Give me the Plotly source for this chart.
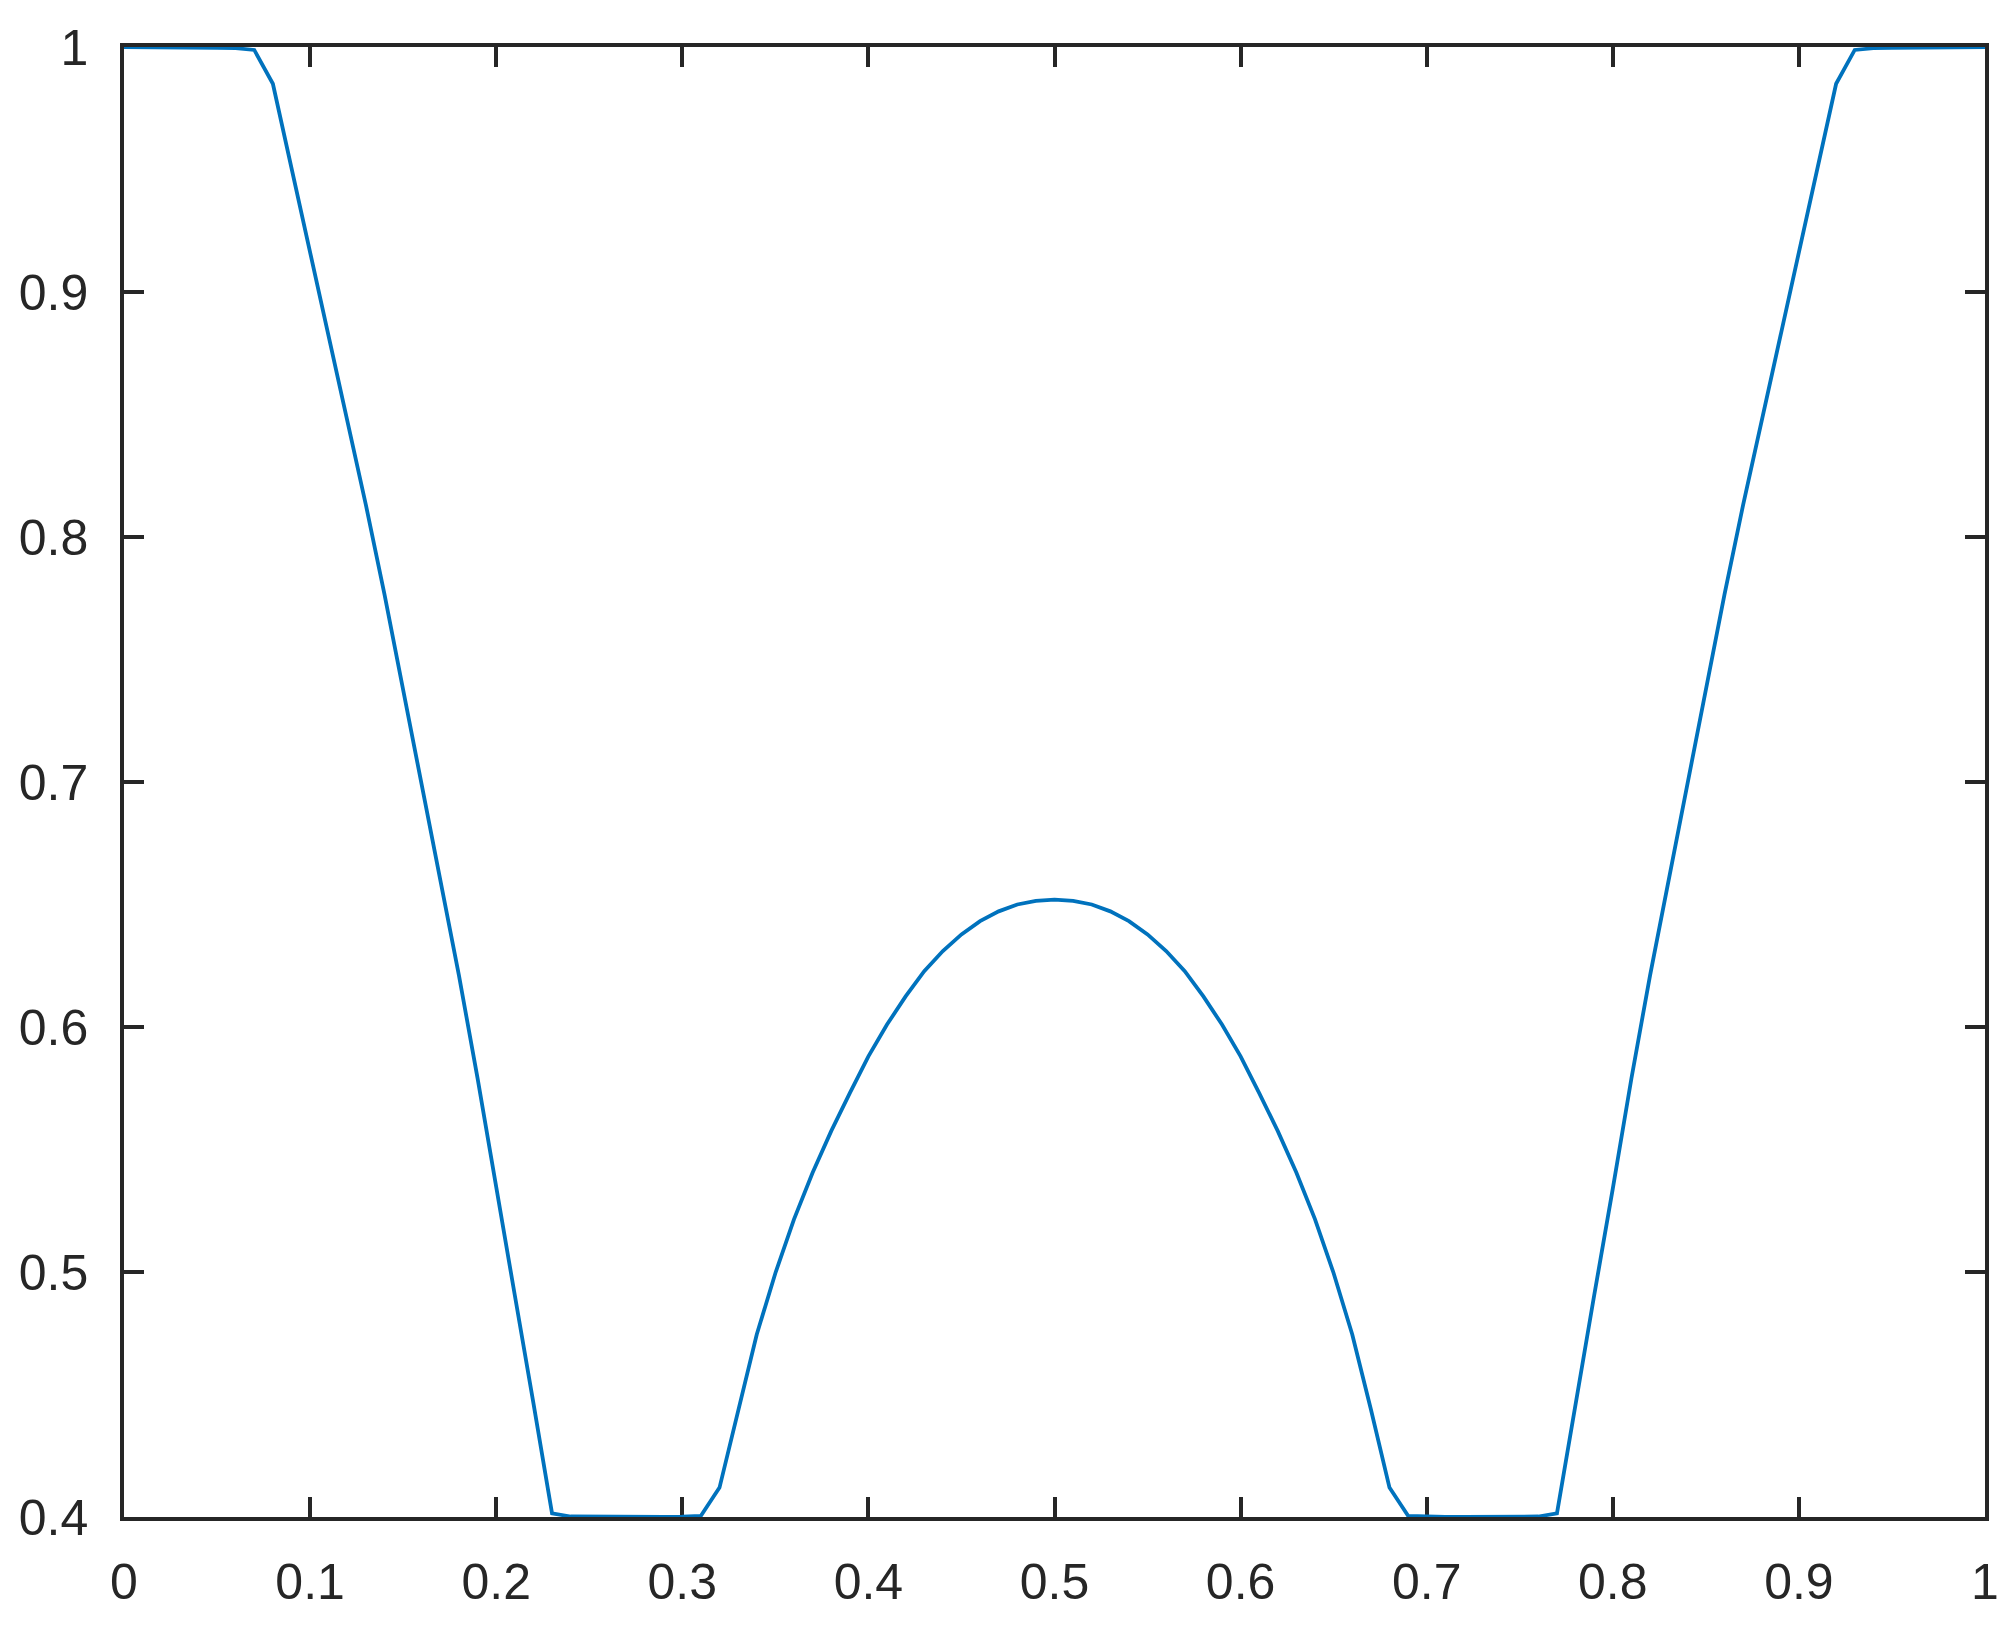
import plotly.graph_objects as go

# sample positions (step 0.01) and the curve value at each
x_vals = [round(i * 0.01, 2) for i in range(101)]
y_vals = [
    1.0000, 1.0000, 1.0000, 0.9999, 0.9998, 0.9997, 0.9995, 0.9988, 0.985, 0.9506,
    0.9162, 0.8818, 0.8474, 0.8130, 0.7765, 0.7375, 0.6990, 0.6600, 0.6210, 0.5790,
    0.5340, 0.4905, 0.4465, 0.4015, 0.4002, 0.4001, 0.4000, 0.4000, 0.4000, 0.4000,
    0.4001, 0.4005, 0.412, 0.444, 0.4745, 0.4995, 0.5215, 0.5405, 0.5575, 0.5730,
    0.5880, 0.6010, 0.6125, 0.6228, 0.6310, 0.6378, 0.6432, 0.6472, 0.6500, 0.6515,
    0.652,
    0.6515, 0.6500, 0.6472, 0.6432, 0.6378, 0.6310, 0.6228, 0.6125, 0.6010, 0.5880,
    0.5730, 0.5575, 0.5405, 0.5215, 0.4995, 0.4745, 0.444, 0.412, 0.4005, 0.4001,
    0.4000, 0.4000, 0.4000, 0.4000, 0.4001, 0.4002, 0.4015, 0.4465, 0.4905, 0.5340,
    0.5790, 0.6210, 0.6600, 0.6990, 0.7375, 0.7765, 0.8130, 0.8474, 0.8818, 0.9162,
    0.9506, 0.985, 0.9988, 0.9995, 0.9997, 0.9998, 0.9999, 1.0000, 1.0000, 1.0000,
]

x_ticks = [0, 0.1, 0.2, 0.3, 0.4, 0.5, 0.6, 0.7, 0.8, 0.9, 1]
x_tick_text = ['0', '0.1', '0.2', '0.3', '0.4', '0.5', '0.6', '0.7', '0.8', '0.9', '1']
y_ticks = [0.4, 0.5, 0.6, 0.7, 0.8, 0.9, 1]
y_tick_text = ['0.4', '0.5', '0.6', '0.7', '0.8', '0.9', '1']

axis_color = '#262626'

fig = go.Figure()
fig.add_trace(go.Scatter(x=x_vals, y=y_vals, mode='lines',
                         line=dict(color='#0072BD', width=3.8),
                         showlegend=False))

common = dict(showgrid=False, zeroline=False, showline=True, linecolor=axis_color,
              linewidth=3.5, mirror='ticks', ticks='inside', ticklen=20, tickwidth=3.5,
              tickcolor=axis_color, layer='below traces',
              tickfont=dict(family='Liberation Sans, Arial, sans-serif', size=50,
                            color=axis_color))

fig.update_xaxes(range=[0, 1], tickmode='array', tickvals=x_ticks, ticktext=x_tick_text,
                 ticklabelstandoff=18, **common)
fig.update_yaxes(range=[0.4, 1], tickmode='array', tickvals=y_ticks, ticktext=y_tick_text,
                 ticklabelstandoff=22, **common)

# the page body adds an 8px offset, so margins are trimmed to land the plot box in place
fig.update_layout(width=2015, height=1626,
                  margin=dict(l=116, r=38, t=39, b=117),
                  paper_bgcolor='white', plot_bgcolor='white')

fig.write_html("out.html")
